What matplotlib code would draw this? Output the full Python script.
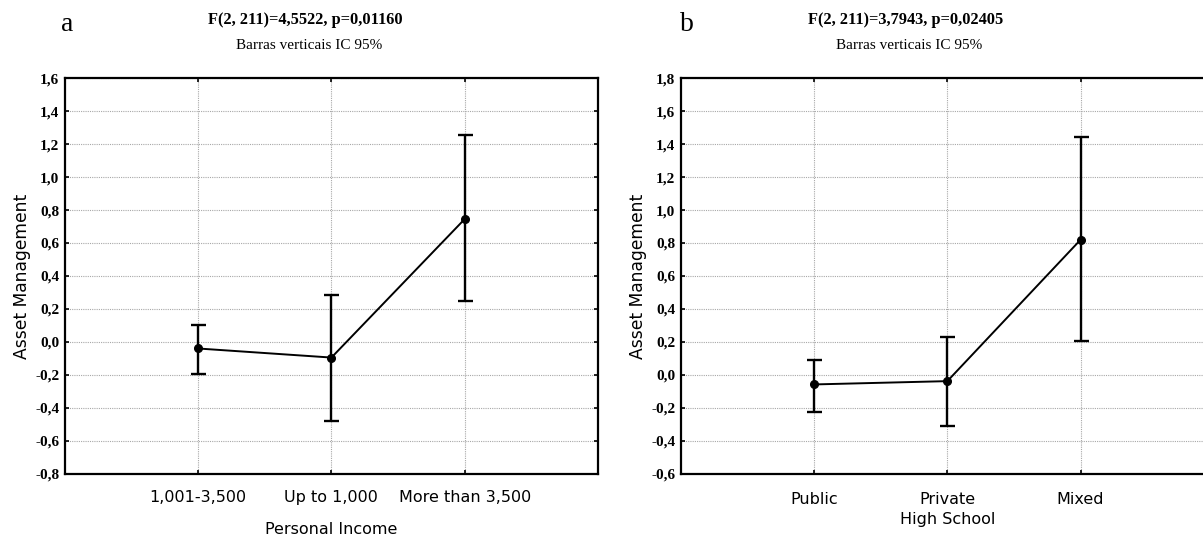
import matplotlib
matplotlib.use('Agg')
import matplotlib.pyplot as plt
from matplotlib.ticker import FuncFormatter, MultipleLocator

# DATA (means and 95% CI bounds)
income_cats = ['1,001-3,500', 'Up to 1,000', 'More than 3,500']
income_mean = [-0.04, -0.095, 0.745]
income_lo = [-0.194, -0.479, 0.248]
income_hi = [0.105, 0.287, 1.253]

school_cats = ['Public', 'Private', 'Mixed']
school_mean = [-0.058, -0.038, 0.82]
school_lo = [-0.224, -0.309, 0.208]
school_hi = [0.093, 0.227, 1.44]

panels = [
    dict(letter='a', stat='F(2, 211)=4,5522, p=0,01160', cats=income_cats,
         mean=income_mean, lo=income_lo, hi=income_hi, xlabel='Personal Income',
         ylim=(-0.8, 1.6), rect=[0.054, 0.121, 0.443, 0.734],
         title_x=0.254, letter_x=0.056, xpad=12, labelpad=12),
    dict(letter='b', stat='F(2, 211)=3,7943, p=0,02405', cats=school_cats,
         mean=school_mean, lo=school_lo, hi=school_hi, xlabel='High School',
         ylim=(-0.6, 1.8), rect=[0.566, 0.121, 0.443, 0.734],
         title_x=0.753, letter_x=0.571, xpad=13, labelpad=4),
]

fig = plt.figure(figsize=(12.03, 5.39), dpi=100)

comma_fmt = FuncFormatter(lambda v, p: f"{round(v, 1):.1f}".replace('.', ','))

for p in panels:
    ax = fig.add_axes(p['rect'])
    xs = [1, 2, 3]
    yerr = [[m - l for m, l in zip(p['mean'], p['lo'])],
            [h - m for m, h in zip(p['mean'], p['hi'])]]
    ax.errorbar(xs, p['mean'], yerr=yerr, color='black', lw=1.4, marker='o',
                ms=5.5, capsize=5.4, capthick=1.7, elinewidth=1.7, zorder=3)
    ax.set_xlim(0, 4)
    ax.set_ylim(*p['ylim'])
    ax.set_xticks(xs)
    ax.set_xticklabels(p['cats'], fontsize=11.5, family='DejaVu Sans')
    ax.yaxis.set_major_locator(MultipleLocator(0.2))
    ax.yaxis.set_major_formatter(comma_fmt)
    for lab in ax.get_yticklabels():
        lab.set_family('Liberation Serif')
        lab.set_fontweight('bold')
        lab.set_fontsize(11)
    ax.tick_params(axis='y', direction='in', length=3, width=1.2, pad=4,
                   left=True, right=True)
    ax.tick_params(axis='x', direction='in', length=3, width=1.2, pad=p['xpad'],
                   top=True, bottom=True)
    ax.grid(True, ls=(0, (1, 1)), color='#a8a8a8', lw=0.8)
    for s in ax.spines.values():
        s.set_linewidth(1.6)
    ax.set_ylabel('Asset Management', fontsize=12.3, family='DejaVu Sans', labelpad=3)
    ax.set_xlabel(p['xlabel'], fontsize=11.5, family='DejaVu Sans', labelpad=p['labelpad'])

    fig.text(p['letter_x'], 0.954, p['letter'], family='Liberation Serif',
             fontsize=20, ha='center', va='center')
    fig.text(p['title_x'], 0.962, p['stat'], family='Liberation Serif',
             fontweight='bold', fontsize=11.8, ha='center', va='center')
    fig.text(p['title_x'] + 0.003, 0.916, 'Barras verticais IC 95%',
             family='Liberation Serif', fontsize=11, ha='center', va='center')

fig.savefig('out.png', dpi=100)
